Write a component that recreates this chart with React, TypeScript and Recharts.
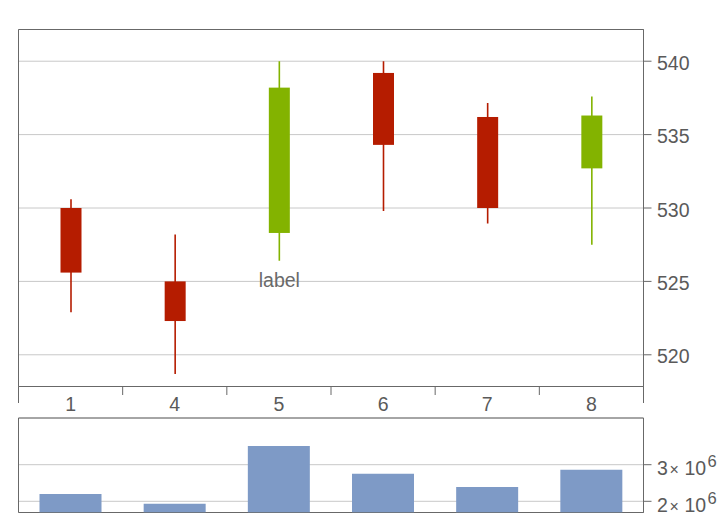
import React from 'react';
import { ComposedChart, BarChart, Bar, XAxis, YAxis, CartesianGrid, ReferenceArea } from 'recharts';

// ---- data ----
const categories = ['1', '4', '5', '6', '7', '8'];
const opens = [530.0, 525.0, 528.3, 539.2, 536.2, 532.7];
const highs = [530.6, 528.2, 540.0, 540.0, 537.15, 537.6];
const lows = [522.9, 518.7, 526.4, 529.8, 528.95, 527.5];
const closes = [525.6, 522.3, 538.2, 534.3, 530.0, 536.3];
const volumes = [2.2e6, 1.93e6, 3.51e6, 2.75e6, 2.39e6, 2.86e6];
const candleLabels = ['', '', 'label', '', '', ''];
const priceTicks = [520, 525, 530, 535, 540];
const priceDomain = [517.84, 542.16];
const volumeTicks = [2e6, 3e6];
const volumeDomain = [1.694e6, 4.276e6];

// ---- style ----
const RED = '#B51C00';
const GREEN = '#83B300';
const BAR = '#7E9AC6';
const FRAME = '#686868';
const GRID = '#c8c8c8';
const TEXT = '#5a5a5a';
const FONT = '"Liberation Sans", Arial, Helvetica, sans-serif';
const FS = 19.5;

const priceRows = categories.map((cat, i) => ({
  cat,
  range: [lows[i], highs[i]],
  open: opens[i],
  close: closes[i],
  high: highs[i],
  low: lows[i],
  label: candleLabels[i],
}));

const volumeRows = categories.map((cat, i) => ({ cat, volume: volumes[i] }));

const Candle = (props: any) => {
  const { x, y, width, height, payload } = props;
  if (x == null || y == null || !payload) return null;
  const top = Math.min(y, y + height);
  const h = Math.abs(height);
  const { open, close, high, low, label } = payload;
  const span = high - low || 1;
  const py = (v: number) => top + ((high - v) / span) * h;
  const color = close >= open ? GREEN : RED;
  const cx = x + width / 2;
  const bTop = py(Math.max(open, close));
  const bBot = py(Math.min(open, close));
  return (
    <g>
      <line x1={cx} x2={cx} y1={py(high)} y2={py(low)} stroke={color} strokeWidth={1.6} />
      <rect x={x} y={bTop} width={width} height={Math.max(1, bBot - bTop)} fill={color} />
      {label ? (
        <text x={cx} y={py(low) + 26} textAnchor="middle" fontSize={FS} fill="#6a6a6a" fontFamily={FONT}>
          {label}
        </text>
      ) : null}
    </g>
  );
};

const PriceXTick = (props: any) => {
  const { x, y, payload, index, visibleTicksCount } = props;
  const half = payload && payload.offset ? payload.offset : 52.08;
  const count = visibleTicksCount || categories.length;
  const isFirst = index === 0;
  const isLast = index === count - 1 || (payload && payload.value === categories[categories.length - 1]);
  return (
    <g>
      <line x1={x - half} x2={x - half} y1={y} y2={y + (isFirst ? 16.5 : 8.5)} stroke={FRAME} strokeWidth={1} />
      {isLast ? <line x1={x + half} x2={x + half} y1={y} y2={y + 16.5} stroke={FRAME} strokeWidth={1} /> : null}
      <text x={x} y={y + 24.5} textAnchor="middle" fontSize={FS} fill={TEXT} fontFamily={FONT}>
        {payload.value}
      </text>
    </g>
  );
};

const PriceYTick = (props: any) => {
  const { x, y, payload } = props;
  return (
    <text x={x} y={y + 8.5} textAnchor="start" fontSize={FS} fill={TEXT} fontFamily={FONT}>
      {payload.value}
    </text>
  );
};

const VolumeYTick = (props: any) => {
  const { x, y, payload } = props;
  const v = payload.value as number;
  const exp = Math.floor(Math.log10(v));
  const mant = Math.round(v / Math.pow(10, exp));
  return (
    <text x={x} y={y + 10.3} textAnchor="start" fontSize={FS} fill={TEXT} fontFamily={FONT}>
      <tspan x={x}>{mant}</tspan>
      <tspan x={x + 12.5} fontSize={16}>×</tspan>
      <tspan x={x + 27.5}>10</tspan>
      <tspan x={x + 50.5} dy={-8} fontSize={16.5}>{exp}</tspan>
    </text>
  );
};

export default function App() {
  return (
    <div style={{ position: 'absolute', left: 0, top: 0, width: 722, height: 521, background: '#fff' }}>
      <div style={{ position: 'absolute', left: 0, top: 0 }}>
        <ComposedChart
          width={722}
          height={420}
          data={priceRows}
          margin={{ top: 29.5, right: 18.5, left: 18.5, bottom: 3.5 }}
        >
          <CartesianGrid yAxisId="price" vertical={false} stroke={GRID} strokeWidth={1} />
          <XAxis
            dataKey="cat"
            type="category"
            height={30}
            tickSize={0}
            tickMargin={0}
            tickLine={false}
            axisLine={{ stroke: FRAME }}
            tick={<PriceXTick />}
            interval={0}
          />
          <YAxis
            yAxisId="price"
            orientation="right"
            width={60}
            domain={priceDomain}
            allowDataOverflow
            ticks={priceTicks}
            tickSize={8}
            tickMargin={5.5}
            tickLine={{ stroke: FRAME }}
            axisLine={{ stroke: FRAME }}
            tick={<PriceYTick />}
            interval={0}
          />
          <ReferenceArea
            yAxisId="price"
            y1={priceDomain[0]}
            y2={priceDomain[1]}
            fill="none"
            fillOpacity={0}
            stroke={FRAME}
            strokeWidth={1}
            ifOverflow="visible"
          />
          <Bar
            yAxisId="price"
            dataKey="range"
            barSize={21}
            shape={<Candle />}
            isAnimationActive={false}
          />
        </ComposedChart>
      </div>
      <div style={{ position: 'absolute', left: 0, top: 405 }}>
        <BarChart
          width={722}
          height={116}
          data={volumeRows}
          margin={{ top: 13, right: 18.5, left: 18.5, bottom: 8.5 }}
        >
          <CartesianGrid yAxisId="vol" vertical={false} stroke={GRID} strokeWidth={1} />
          <XAxis
            dataKey="cat"
            type="category"
            height={0}
            tick={false}
            tickLine={false}
            axisLine={{ stroke: FRAME }}
          />
          <YAxis
            yAxisId="vol"
            orientation="right"
            width={60}
            domain={volumeDomain}
            allowDataOverflow
            ticks={volumeTicks}
            tickSize={8}
            tickMargin={5.5}
            tickLine={{ stroke: FRAME }}
            axisLine={{ stroke: FRAME }}
            tick={<VolumeYTick />}
            interval={0}
          />
          <ReferenceArea
            yAxisId="vol"
            y1={volumeDomain[0]}
            y2={volumeDomain[1]}
            fill="none"
            fillOpacity={0}
            stroke={FRAME}
            strokeWidth={1}
            ifOverflow="visible"
          />
          <Bar yAxisId="vol" dataKey="volume" barSize={62} fill={BAR} isAnimationActive={false} />
        </BarChart>
      </div>
    </div>
  );
}
